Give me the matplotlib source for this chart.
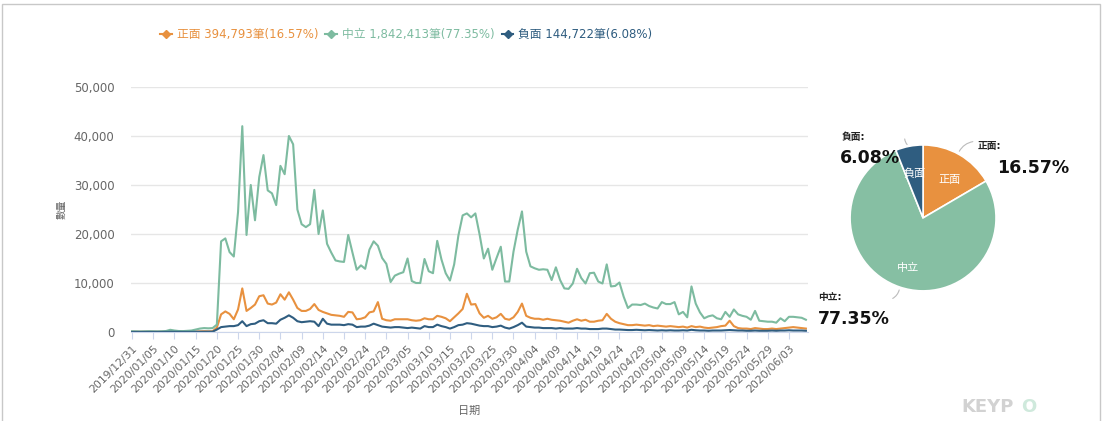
import numpy as np
import pandas as pd
import matplotlib.pyplot as plt
from matplotlib.lines import Line2D
from matplotlib.patches import Rectangle

plt.rcParams['font.family'] = ['DejaVu Sans', 'Noto Sans CJK TC']

dates = pd.date_range('2019-12-31', periods=160, freq='D')

# daily counts: positive / neutral / negative
pos = [50, 40, 40, 50, 60, 40, 40, 50, 60, 120, 80, 60, 50, 60, 70, 100, 120, 150, 130, 150,
       900, 3600, 4200, 3700, 2600, 4600, 8900, 4300, 4900, 5600,
       7300, 7500, 5800, 5600, 6000, 7700, 6600, 8100, 6600, 4900,
       4300, 4300, 4700, 5700, 4500, 4100, 3800, 3500, 3400, 3300,
       3100, 4100, 4000, 2600, 2700, 3000, 4000, 4200, 6100, 2700,
       2400, 2300, 2600, 2600, 2600, 2600, 2400, 2300, 2400, 2800,
       2600, 2600, 3300, 3100, 2800, 2200, 3000, 3800, 4700, 7800,
       5600, 5700, 3800, 2900, 3300, 2700, 3000, 3700, 2700, 2500,
       3000, 4100, 5800, 3300, 2900, 2700, 2700, 2500, 2700, 2500,
       2400, 2300, 2100, 1900, 2300, 2600, 2300, 2500, 2100, 2100,
       2300, 2400, 3700, 2700, 2100, 1800, 1600, 1400, 1400, 1500,
       1400, 1300, 1400, 1200, 1300, 1200, 1100, 1200, 1100, 1000,
       1100, 900, 1200, 1000, 1100, 900, 800, 900, 1000, 1200,
       1300, 2300, 1200, 800, 700, 700, 600, 800, 700, 600,
       600, 700, 600, 700, 800, 900, 1000, 900, 800, 700]

neu = [150, 120, 100, 130, 150, 120, 110, 140, 200, 450, 300, 200, 180, 250, 300, 500, 700, 800, 750, 800,
       1500, 18500, 19100, 16300, 15400, 24500, 42000, 19800, 30000, 22800,
       31600, 36100, 28900, 28300, 25900, 33900, 32200, 40000, 38300, 25000,
       22000, 21400, 22000, 29000, 20000, 24800, 18000, 16200, 14600, 14400,
       14300, 19800, 16200, 12700, 13600, 12900, 16800, 18500, 17600, 15100,
       13900, 10200, 11500, 11900, 12200, 15000, 10400, 10000, 10000, 14900,
       12400, 12000, 18600, 14800, 12000, 10500, 13800, 19700, 23800, 24200,
       23400, 24200, 19900, 15000, 17000, 12700, 15100, 17400, 10300, 10300,
       16400, 20900, 24600, 16400, 13400, 13000, 12700, 12800, 12700, 10600,
       13200, 10600, 8900, 8800, 9900, 12900, 11000, 9900, 12000, 12100,
       10300, 9900, 13800, 9300, 9400, 10100, 7200, 4900, 5600, 5600,
       5500, 5800, 5300, 5000, 4800, 6100, 5700, 5700, 6100, 3600,
       4100, 3000, 9300, 5800, 4000, 2800, 3200, 3400, 2800, 2600,
       4100, 3100, 4600, 3600, 3300, 3100, 2500, 4300, 2300, 2200,
       2100, 2100, 1900, 2800, 2200, 3100, 3100, 3000, 2900, 2500]

neg = [20, 20, 20, 20, 30, 20, 20, 20, 30, 50, 40, 30, 30, 30, 40, 50, 60, 60, 60, 70,
       500, 1000, 1100, 1200, 1200, 1400, 2200, 1200, 1600, 1700,
       2200, 2400, 1800, 1800, 1700, 2500, 2900, 3400, 2900, 2200,
       2000, 2100, 2200, 2100, 1200, 2700, 1700, 1500, 1500, 1500,
       1400, 1600, 1500, 1000, 1100, 1100, 1300, 1700, 1400, 1100,
       1000, 900, 1000, 1000, 900, 800, 900, 800, 700, 1200,
       1000, 1000, 1500, 1200, 1000, 700, 1000, 1400, 1500, 1800,
       1700, 1500, 1300, 1200, 1200, 1000, 1100, 1300, 900, 700,
       1000, 1400, 1900, 1100, 1000, 900, 900, 800, 800, 800,
       700, 800, 700, 700, 700, 800, 700, 700, 600, 600,
       600, 700, 700, 600, 500, 500, 450, 400, 400, 450,
       400, 350, 400, 350, 300, 350, 300, 350, 300, 300,
       350, 300, 450, 350, 300, 300, 250, 300, 300, 300,
       350, 400, 350, 300, 300, 250, 250, 300, 250, 250,
       250, 300, 250, 300, 300, 350, 300, 300, 300, 250]

names = ['正面', '中立', '負面']
totals = [394793, 1842413, 144722]
shares = [16.57, 77.35, 6.08]
colors = ['#E8913F', '#7DBBA0', '#2F5D80']
pie_colors = ['#E8913F', '#86BFA3', '#2F5D80']

fig = plt.figure(figsize=(11.04, 4.21), dpi=100)
fig.patches.append(Rectangle((0.002, -0.01), 0.994, 1.0, transform=fig.transFigure,
                             fill=False, edgecolor='#c8c8c8', linewidth=1.0))

ax = fig.add_axes([0.1187, 0.2114, 0.6132, 0.582])
for vals, c in zip([pos, neu, neg], colors):
    ax.plot(dates, vals, color=c, linewidth=1.5)

ax.set_ylim(0, 50000)
ax.set_xlim(dates[0] - pd.Timedelta(hours=6), dates[-1] + pd.Timedelta(hours=12))
ax.set_yticks(range(0, 50001, 10000))
ax.set_yticklabels(['0'] + ['{:,}'.format(v) for v in range(10000, 50001, 10000)])
ax.grid(axis='y', color='#e6e6e6', linewidth=1)
ax.set_axisbelow(True)
for s in ['top', 'right', 'left']:
    ax.spines[s].set_visible(False)
ax.spines['bottom'].set_color('#ccd6eb')
ax.tick_params(axis='y', length=0, labelsize=8.5, labelcolor='#666666', pad=12)

xt = dates[::5]
ax.set_xticks(xt)
ax.set_xticklabels([d.strftime('%Y/%m/%d') for d in xt], rotation=45, ha='right',
                   rotation_mode='anchor', fontsize=7.8, color='#666666')
ax.tick_params(axis='x', length=5, color='#ccd6eb', pad=3)
ax.set_xlabel('日期', fontsize=8, color='#666666', labelpad=8)
ax.set_ylabel('數量', fontsize=7, color='#666666', labelpad=5)

handles = [Line2D([], [], color=c, marker='D', markersize=4, linewidth=1.5) for c in colors]
labels = ['{} {:,}筆({:.2f}%)'.format(n, t, s) for n, t, s in zip(names, totals, shares)]
leg = fig.legend(handles, labels, loc='center', bbox_to_anchor=(0.368, 0.917), ncol=3,
                 frameon=False, fontsize=8.5, handlelength=1.0, handletextpad=0.4,
                 columnspacing=0.6, labelcolor=colors)

# share pie
pax = fig.add_axes([0.770, 0.309, 0.1322, 0.3468])
wedges, _ = pax.pie(shares, colors=pie_colors, startangle=90, counterclock=False,
                    wedgeprops=dict(edgecolor='white', linewidth=1.2))
pax.set_xlim(-1, 1)
pax.set_ylim(-1, 1)
pax.set_aspect('equal')

inner = {'正面': (0.36, 0.52), '中立': (-0.2, -0.68), '負面': (-0.12, 0.6)}
ext = {'正面': (0.75, 0.98, 1.02, 0.68),
       '中立': (-1.44, -1.09, -1.44, -1.38),
       '負面': (-1.11, 1.11, -1.14, 0.82)}
tips = {'正面': ((0.48, 0.88), (0.72, 1.05)),
        '中立': ((-0.32, -0.95), (-0.45, -1.12)),
        '負面': ((-0.19, 0.98), (-0.25, 1.12))}
for n, s in zip(names, shares):
    ix, iy = inner[n]
    pax.text(ix, iy, n, fontsize=8, color='white', ha='center', va='center')
    lx, ly, vx, vy = ext[n]
    pax.text(lx, ly, n + ':', fontsize=7, fontweight='bold', color='#222222',
             ha='left', va='center', clip_on=False)
    pax.text(vx, vy, '{:.2f}%'.format(s), fontsize=12.5, fontweight='bold', color='#111111',
             ha='left', va='center', clip_on=False)
    p0, p1 = tips[n]
    pax.annotate('', xy=p0, xytext=p1, annotation_clip=False,
                 arrowprops=dict(arrowstyle='-', color='#bbbbbb', linewidth=0.8,
                                 connectionstyle='arc3,rad=0.3'))

fig.text(0.871, 0.033, 'KEYP', fontsize=13, fontweight='bold', color='#d2d2d2', va='center')
fig.text(0.925, 0.033, 'O', fontsize=13, fontweight='bold', color='#cfe9dc', va='center')

fig.savefig('out.png', dpi=100)
